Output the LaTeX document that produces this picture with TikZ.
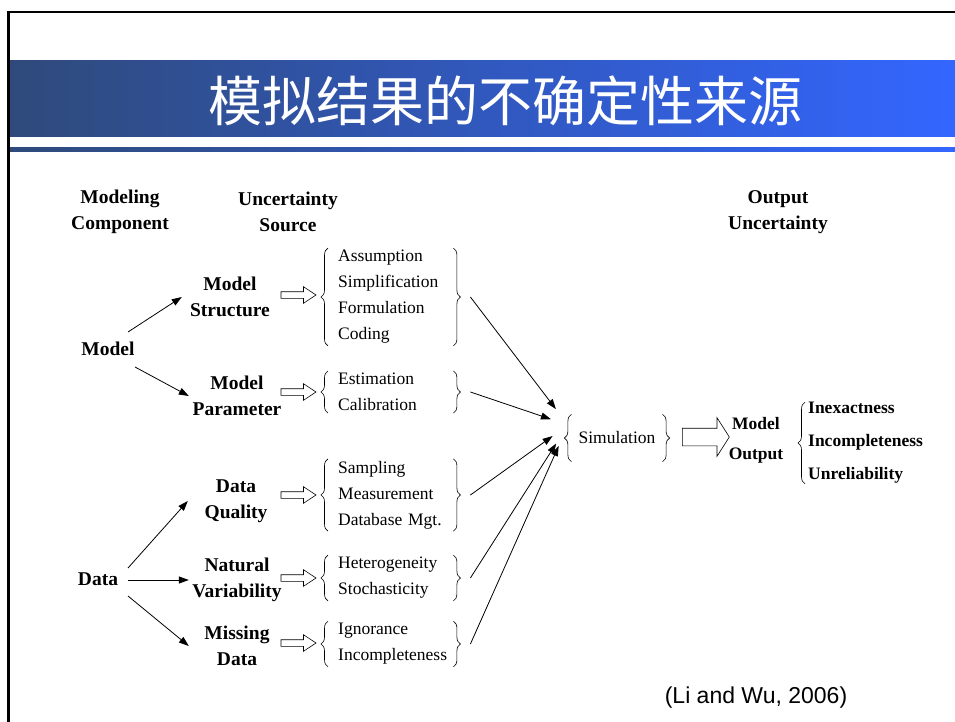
\documentclass[tikz,border=0pt]{standalone}
\usepackage{fontspec}
\setmainfont{Liberation Serif}
\newfontfamily\cjk{Noto Sans CJK SC}
\newfontfamily\citefont{Liberation Sans}
\usetikzlibrary{arrows.meta,shapes.arrows,decorations.pathreplacing}
\definecolor{barL}{RGB}{47,74,122}
\definecolor{barR}{RGB}{51,102,255}
\tikzset{
  comp/.style={font=\fontsize{19.5}{26}\selectfont\bfseries, align=center, inner sep=3pt},
  srcbox/.style={comp, text width=90pt},
  itemlist/.style={font=\fontsize{17.5}{26}\selectfont, align=left, text width=111pt, inner xsep=3pt, inner ysep=2pt, anchor=west},
  curly/.style={decorate, decoration={brace, amplitude=7pt}, line width=0.6pt},
  hollowarr/.style={single arrow, draw, line width=0.6pt, inner xsep=0pt, inner ysep=3pt, minimum height=35pt, single arrow head extend=5pt, single arrow tip angle=67},
  feedarr/.style={-{Triangle[length=10pt,width=7pt]}, line width=0.8pt},
}
\begin{document}
\begin{tikzpicture}[x=1pt, y=-1pt]
  \useasboundingbox (0,0) rectangle (955,722);
  \shade[left color=barL, right color=barR] (9.5,61) rectangle (955,137);
  \shade[left color=barL, right color=barR] (9.5,148) rectangle (955,152);
  \draw[line width=2.5pt] (8.5,722) -- (8.5,12) -- (955,12);
  \node[font=\cjk\fontsize{54}{54}\selectfont, text=white] (title) at (505,101) {模拟结果的不确定性来源};

  \node[comp] (hComp) at (120,212) {Modeling\\Component};
  \node[comp] (hSrc) at (288,212) {Uncertainty\\Source};
  \node[comp] (hOut) at (778,212) {Output\\Uncertainty};

  \node[comp] (model) at (108,349) {Model};
  \node[comp] (data) at (98,579) {Data};
  \node[srcbox] (mStruct) at (230,297) {Model\\Structure};
  \node[srcbox] (mParam) at (237,396) {Model\\Parameter};
  \node[srcbox] (dQual) at (236,501) {Data\\Quality};
  \node[srcbox] (dNat) at (237,580) {Natural\\Variability};
  \node[srcbox] (dMiss) at (237,646) {Missing\\Data};

  \draw[feedarr] ([shift={(20,-17)}]model.center) -- (mStruct.west);
  \draw[feedarr] ([shift={(27,18)}]model.center) -- (mParam.west);
  \draw[feedarr] ([shift={(30,-11)}]data.center) -- (dQual.west);
  \draw[feedarr] ([shift={(30,1)}]data.center) -- (dNat.west);
  \draw[feedarr] ([shift={(30,17)}]data.center) -- (dMiss.west);

  \node[hollowarr] (haStruct) at (296,295) {};
  \node[hollowarr] (haParam) at (296,392) {};
  \node[hollowarr] (haQual) at (296,495) {};
  \node[hollowarr] (haNat) at (296,578) {};
  \node[hollowarr] (haMiss) at (296,643) {};

  \node[itemlist] (lstStruct) at (335,297) {Assumption\\Simplification\\Formulation\\Coding};
  \node[itemlist] (lstParam) at (335,392) {Estimation\\Calibration};
  \node[itemlist] (lstQual) at (335,495) {Sampling\\Measurement\\Database Mgt.};
  \node[itemlist] (lstNat) at (335,578) {Heterogeneity\\Stochasticity};
  \node[itemlist] (lstMiss) at (335,644) {Ignorance\\Incompleteness};

  \draw[curly] ([xshift=-7pt]lstStruct.south west) -- ([xshift=-7pt]lstStruct.north west);
  \draw[curly] ([xshift=1pt]lstStruct.north east) -- ([xshift=1pt]lstStruct.south east);
  \draw[curly] ([xshift=-7pt]lstParam.south west) -- ([xshift=-7pt]lstParam.north west);
  \draw[curly] ([xshift=1pt]lstParam.north east) -- ([xshift=1pt]lstParam.south east);
  \draw[curly] ([xshift=-7pt]lstQual.south west) -- ([xshift=-7pt]lstQual.north west);
  \draw[curly] ([xshift=1pt]lstQual.north east) -- ([xshift=1pt]lstQual.south east);
  \draw[curly] ([xshift=-7pt]lstNat.south west) -- ([xshift=-7pt]lstNat.north west);
  \draw[curly] ([xshift=1pt]lstNat.north east) -- ([xshift=1pt]lstNat.south east);
  \draw[curly] ([xshift=-7pt]lstMiss.south west) -- ([xshift=-7pt]lstMiss.north west);
  \draw[curly] ([xshift=1pt]lstMiss.north east) -- ([xshift=1pt]lstMiss.south east);

  \node[font=\fontsize{17.5}{26}\selectfont, inner xsep=3pt, minimum height=47pt] (sim) at (617,438) {Simulation};
  \draw[curly] ([xshift=-4pt]sim.south west) -- ([xshift=-4pt]sim.north west);
  \draw[curly] ([xshift=4pt]sim.north east) -- ([xshift=4pt]sim.south east);
  \coordinate (hub) at (568,425);

  \draw[feedarr, shorten >=20pt] ([xshift=18pt]lstStruct.east) -- (hub);
  \draw[feedarr, shorten >=18pt] ([xshift=18pt]lstParam.east) -- (hub);
  \draw[feedarr, shorten >=19pt] ([xshift=18pt]lstQual.east) -- (hub);
  \draw[feedarr, shorten >=22pt] ([xshift=18pt]lstNat.east) -- (hub);
  \draw[feedarr, shorten >=23pt] ([xshift=18pt]lstMiss.east) -- (hub);

  \node[hollowarr, minimum height=47pt, inner ysep=8.5pt, single arrow head extend=10.5pt, single arrow tip angle=115] (bigArr) at (703,437) {};
  \node[comp, font=\fontsize{17.5}{30}\selectfont\bfseries] (mOut) at (756,440) {Model\\Output};
  \node[font=\fontsize{17.5}{33}\selectfont\bfseries, align=left, anchor=west, inner xsep=4pt, inner ysep=0pt] (lstOut) at (804,443) {Inexactness\\Incompleteness\\Unreliability};
  \draw[curly] ([xshift=1pt]lstOut.south west) -- ([xshift=1pt]lstOut.north west);

  \node[font=\citefont\fontsize{23}{23}\selectfont] (cite) at (756,698) {(Li and Wu, 2006)};
\end{tikzpicture}
\end{document}
